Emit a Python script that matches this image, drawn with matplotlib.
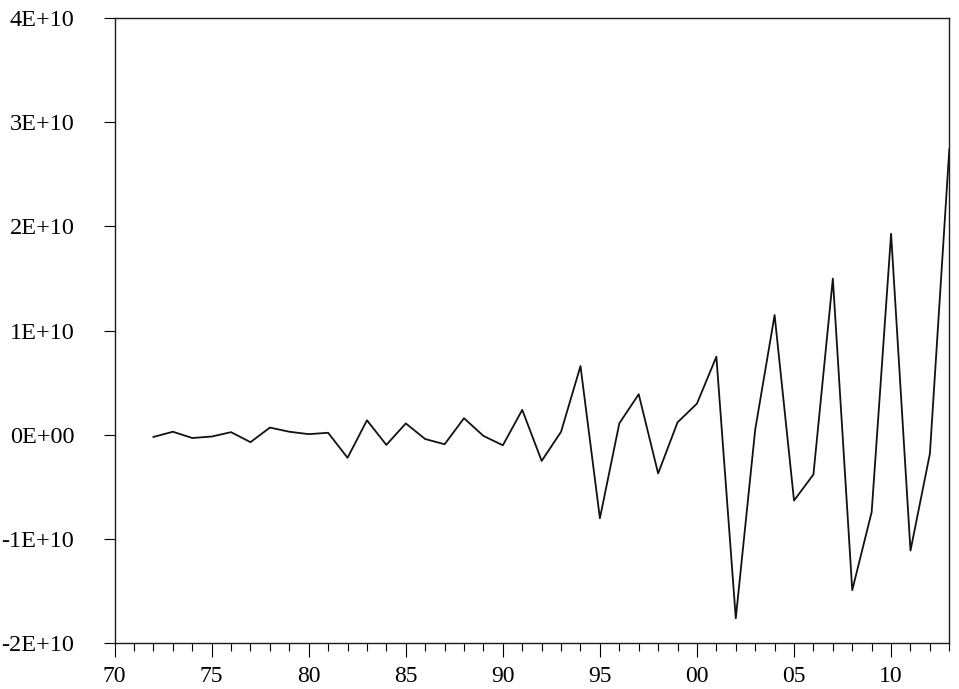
import numpy as np
import matplotlib
matplotlib.use("Agg")
from matplotlib import pyplot as plt
from matplotlib.ticker import FixedLocator, MultipleLocator, FuncFormatter

# yearly values, units of 1E+10
years = list(range(1972, 2014))
values = [
    -0.02, 0.03, -0.03, -0.016, 0.026, -0.07, 0.07, 0.03, 0.007, 0.02,
    -0.22, 0.14, -0.096, 0.11, -0.04, -0.09, 0.16, -0.01, -0.10, 0.24,
    -0.25, 0.03, 0.66, -0.80, 0.11, 0.39, -0.37, 0.12, 0.30, 0.75,
    -1.76, 0.05, 1.15, -0.63, -0.38, 1.50, -1.49, -0.74, 1.93, -1.11,
    -0.18, 2.74,
]
y_ticks = [-2, -1, 0, 1, 2, 3, 4]
y_labels = ["-2E+10", "-1E+10", "0E+00", "1E+10", "2E+10", "3E+10", "4E+10"]

plt.rcParams['font.family'] = ['Liberation Serif', 'DejaVu Serif']

fig = plt.figure(figsize=(9.59, 6.89), dpi=100)
ax = fig.add_axes([0.1195, 0.0663, 0.8704, 0.9076])

ax.plot(years, values, color='#111111', lw=1.3)

ax.set_xlim(1970, 2013)
ax.set_ylim(-2, 4)

ax.xaxis.set_major_locator(MultipleLocator(5))
ax.xaxis.set_minor_locator(MultipleLocator(1))
ax.xaxis.set_major_formatter(FuncFormatter(lambda v, p: f"{int(round(v)) % 100:02d}"))
ax.yaxis.set_major_locator(FixedLocator(y_ticks))
ax.set_yticklabels(y_labels)

ax.tick_params(axis='x', which='major', direction='out', length=10, width=0.8,
               labelsize=17, pad=6, top=False)
ax.tick_params(axis='x', which='minor', direction='out', length=5.5, width=0.8, top=False)
ax.tick_params(axis='y', which='major', direction='out', length=8, width=0.8,
               labelsize=17.5, pad=21, right=False)

for s in ax.spines.values():
    s.set_linewidth(1.0)
    s.set_color('#1a1a1a')

fig.savefig("out.png", dpi=100)
